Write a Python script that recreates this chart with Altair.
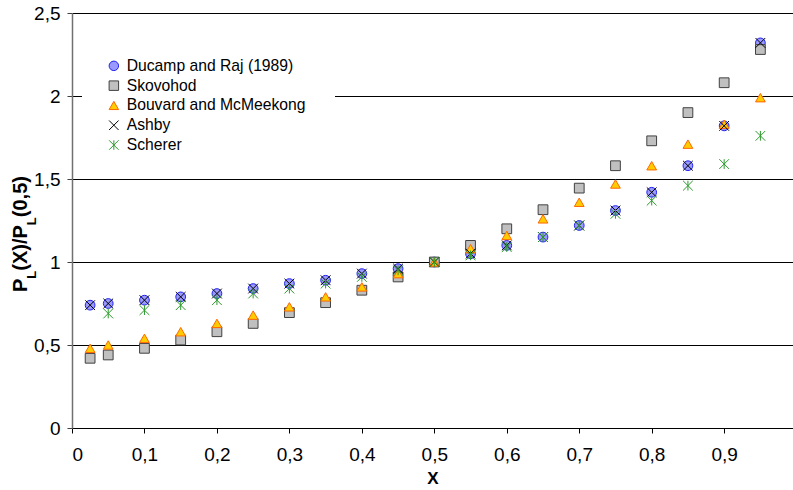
import altair as alt
import pandas as pd

# Relative position along the specimen and normalised property ratio for each model
x_pos = [0.025, 0.05, 0.1, 0.15, 0.2, 0.25, 0.3, 0.35, 0.4, 0.45,
         0.5, 0.55, 0.6, 0.65, 0.7, 0.75, 0.8, 0.85, 0.9, 0.95]

ducamp = [0.74, 0.75, 0.77, 0.79, 0.81, 0.84, 0.87, 0.89, 0.93, 0.96,
          1.00, 1.05, 1.10, 1.15, 1.22, 1.31, 1.42, 1.58, 1.82, 2.32]
skovohod = [0.42, 0.44, 0.48, 0.53, 0.58, 0.63, 0.695, 0.755, 0.83, 0.91,
            1.00, 1.10, 1.20, 1.315, 1.445, 1.58, 1.73, 1.90, 2.08, 2.28]
bouvard = [0.48, 0.50, 0.54, 0.58, 0.63, 0.68, 0.73, 0.79, 0.85, 0.93,
           1.00, 1.08, 1.16, 1.26, 1.36, 1.47, 1.58, 1.71, 1.83, 1.99]
ashby = [0.74, 0.75, 0.77, 0.79, 0.81, 0.84, 0.87, 0.89, 0.93, 0.96,
         1.00, 1.05, 1.10, 1.15, 1.22, 1.31, 1.42, 1.58, 1.82, 2.32]
# Scherer's series starts at X = 0,05
scherer_x = x_pos[1:]
scherer = [0.69, 0.71, 0.74, 0.77, 0.81, 0.84, 0.87, 0.91, 0.95,
           1.00, 1.04, 1.09, 1.15, 1.22, 1.29, 1.37, 1.46, 1.59, 1.76]

series_names = ["Ducamp and Raj (1989)", "Skovohod", "Bouvard and McMeekong",
                "Ashby", "Scherer"]
x_ticks = [0, 0.1, 0.2, 0.3, 0.4, 0.5, 0.6, 0.7, 0.8, 0.9]
y_ticks = [0, 0.5, 1, 1.5, 2, 2.5]

rows = []
for name, xs, ys in zip(series_names,
                        [x_pos, x_pos, x_pos, x_pos, scherer_x],
                        [ducamp, skovohod, bouvard, ashby, scherer]):
    for xv, yv in zip(xs, ys):
        rows.append({"series": name, "x": xv, "y": yv})
df = pd.DataFrame(rows)

FONT = "Liberation Sans"
W, H = 721, 415

x_cross = "M-1,-1L1,1M-1,1L1,-1"
star = "M-1,-1L1,1M-1,1L1,-1M0,-1L0,1"

legend = alt.Legend(
    title=None, orient="none", legendX=34, legendY=45, padding=0,
    labelFont=FONT, labelFontSize=15.7, labelColor="black", labelLimit=0,
    symbolSize=90, symbolStrokeWidth=1, labelOffset=5, rowPadding=2.8,
)

points = alt.Chart(df).mark_point(filled=True, opacity=1, strokeWidth=1, size=95).encode(
    x=alt.X("x:Q", scale=alt.Scale(domain=[0, 0.995], nice=False, zero=True),
            axis=alt.Axis(values=x_ticks, title="X", grid=False,
                          labelExpr="replace(toString(datum.value), '.', ',')")),
    y=alt.Y("y:Q", scale=alt.Scale(domain=[0, 2.5], nice=False),
            axis=alt.Axis(values=y_ticks, title=None, grid=True,
                          labelExpr="replace(toString(datum.value), '.', ',')")),
    shape=alt.Shape("series:N", sort=series_names,
                    scale=alt.Scale(domain=series_names,
                                    range=["circle", "square", "triangle-up", x_cross, star]),
                    legend=legend),
    fill=alt.Fill("series:N", sort=series_names,
                  scale=alt.Scale(domain=series_names,
                                  range=["#9999FF", "#C0C0C0", "#FFCC00", "transparent", "transparent"]),
                  legend=legend),
    stroke=alt.Stroke("series:N", sort=series_names,
                      scale=alt.Scale(domain=series_names,
                                      range=["#2222EE", "#404040", "#FF6600", "#000000", "#2E9A2E"]),
                      legend=legend),
    order=alt.Order("idx:Q"),
).transform_window(idx="row_number()")

# white panel behind the legend entries
legend_bg = alt.Chart(pd.DataFrame({"k": [0]})).mark_rect(color="white").encode(
    x=alt.value(10), x2=alt.value(263), y=alt.value(44), y2=alt.value(140)
)

# y-axis title with subscripts, built from rotated text pieces
main_fs, sub_fs = 20, 13
adv = {"P": 0.667, "L": 0.611, "(": 0.333, ")": 0.333, "X": 0.667,
       "/": 0.278, "0": 0.556, ",": 0.278, "5": 0.556}
pieces = [("P", False), ("L", True), ("(X)/P", False), ("L", True), ("(0,5)", False)]
title_layers = []
cursor = 279.0
for txt, is_sub in pieces:
    fs = sub_fs if is_sub else main_fs
    title_layers.append(
        alt.Chart(pd.DataFrame({"t": [txt]})).mark_text(
            font=FONT, fontWeight="bold", fontSize=fs, angle=270,
            align="left", baseline="alphabetic", color="black"
        ).encode(text="t:N", x=alt.value(-36 if is_sub else -45), y=alt.value(cursor))
    )
    cursor -= sum(adv[c] for c in txt) * fs

chart = alt.layer(legend_bg, points, *title_layers).properties(
    width=W, height=H,
    autosize=alt.AutoSizeParams(type="none"),
    padding={"left": 72, "top": 13, "right": 0, "bottom": 62},
).configure_view(stroke=None).configure_axis(
    labelFont=FONT, labelFontSize=19, labelColor="black",
    titleFont=FONT, titleFontSize=17, titleFontWeight="bold", titleColor="black",
    tickSize=5, tickColor="#404040", domainColor="black",
).configure_axisX(
    labelPadding=12, titlePadding=6, domainColor="black", tickColor="black",
).configure_axisY(
    labelPadding=7, domainColor="#707070", domainWidth=1.5,
    gridColor="black", gridWidth=1, gridOpacity=1,
)

chart.save("out.html", embed_options={"renderer": "svg", "actions": False})
